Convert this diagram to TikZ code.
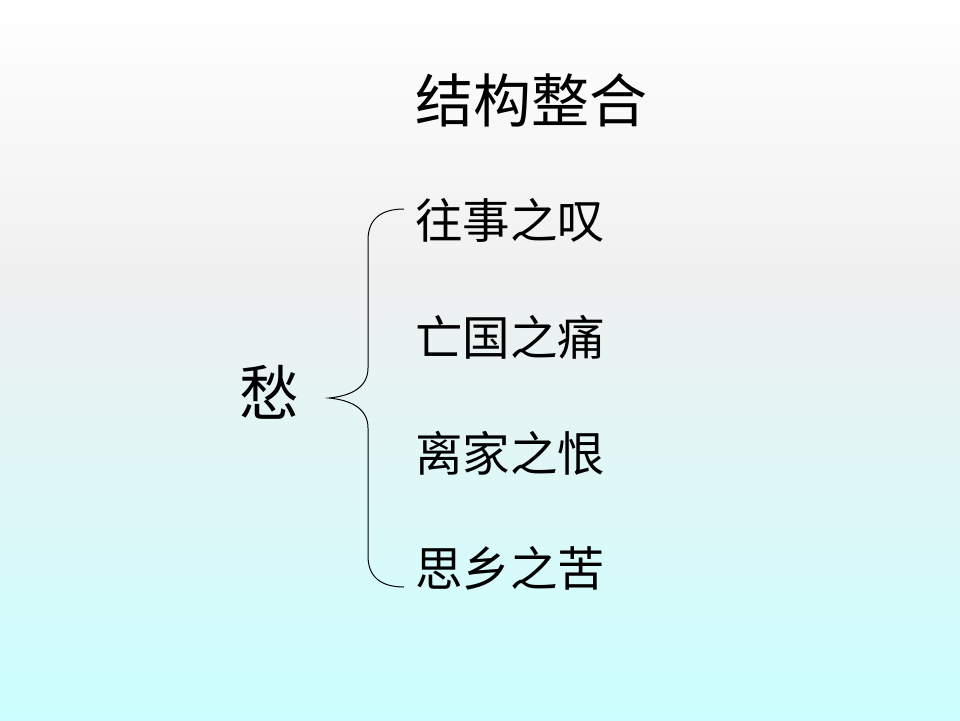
\documentclass[tikz,border=0pt]{standalone}
\usepackage{fontspec}
\newfontfamily\cjk{Noto Sans CJK SC}
\definecolor{bgtop}{HTML}{FFFFFF}
\definecolor{bgmid}{HTML}{F0F0F0}
\definecolor{bgbot}{HTML}{CCFFFF}
\pgfdeclareverticalshading{bgshade}{100bp}{color(0bp)=(bgbot); color(25bp)=(bgbot); color(56bp)=(bgmid); color(75bp)=(bgtop); color(100bp)=(bgtop)}
\begin{document}
\begin{tikzpicture}[x=1pt,y=-1pt,
  item/.style={anchor=west,inner sep=0pt,font=\cjk\fontsize{47.5}{50}\selectfont},
  title/.style={anchor=west,inner sep=0pt,font=\cjk\fontsize{58}{60}\selectfont},
  brace/.style={draw=black,line width=1pt}]
\shade[shading=bgshade] (0,0) rectangle (960,720);
\useasboundingbox (0,0) rectangle (960,720);
\node[title] (t) at (415,100) {结构整合};
\node[item] (a) at (415,220) {往事之叹};
\node[item] (b) at (415,337) {亡国之痛};
\node[item] (c) at (415,453) {离家之恨};
\node[item] (d) at (415,568) {思乡之苦};
\node[anchor=center,inner sep=0pt,font=\cjk\fontsize{60}{62}\selectfont] (s) at (269,392) {愁};
\coordinate (top) at (404,209);
\coordinate (tip) at (329,398);
\coordinate (bot) at (404,587);
\draw[brace] (top) .. controls (380,209) and (368,220) .. (368,240)
  -- (368,368) .. controls (368,388) and (350,396) .. (tip)
  .. controls (350,400) and (368,408) .. (368,428)
  -- (368,556) .. controls (368,576) and (380,587) .. (bot);
\end{tikzpicture}
\end{document}
